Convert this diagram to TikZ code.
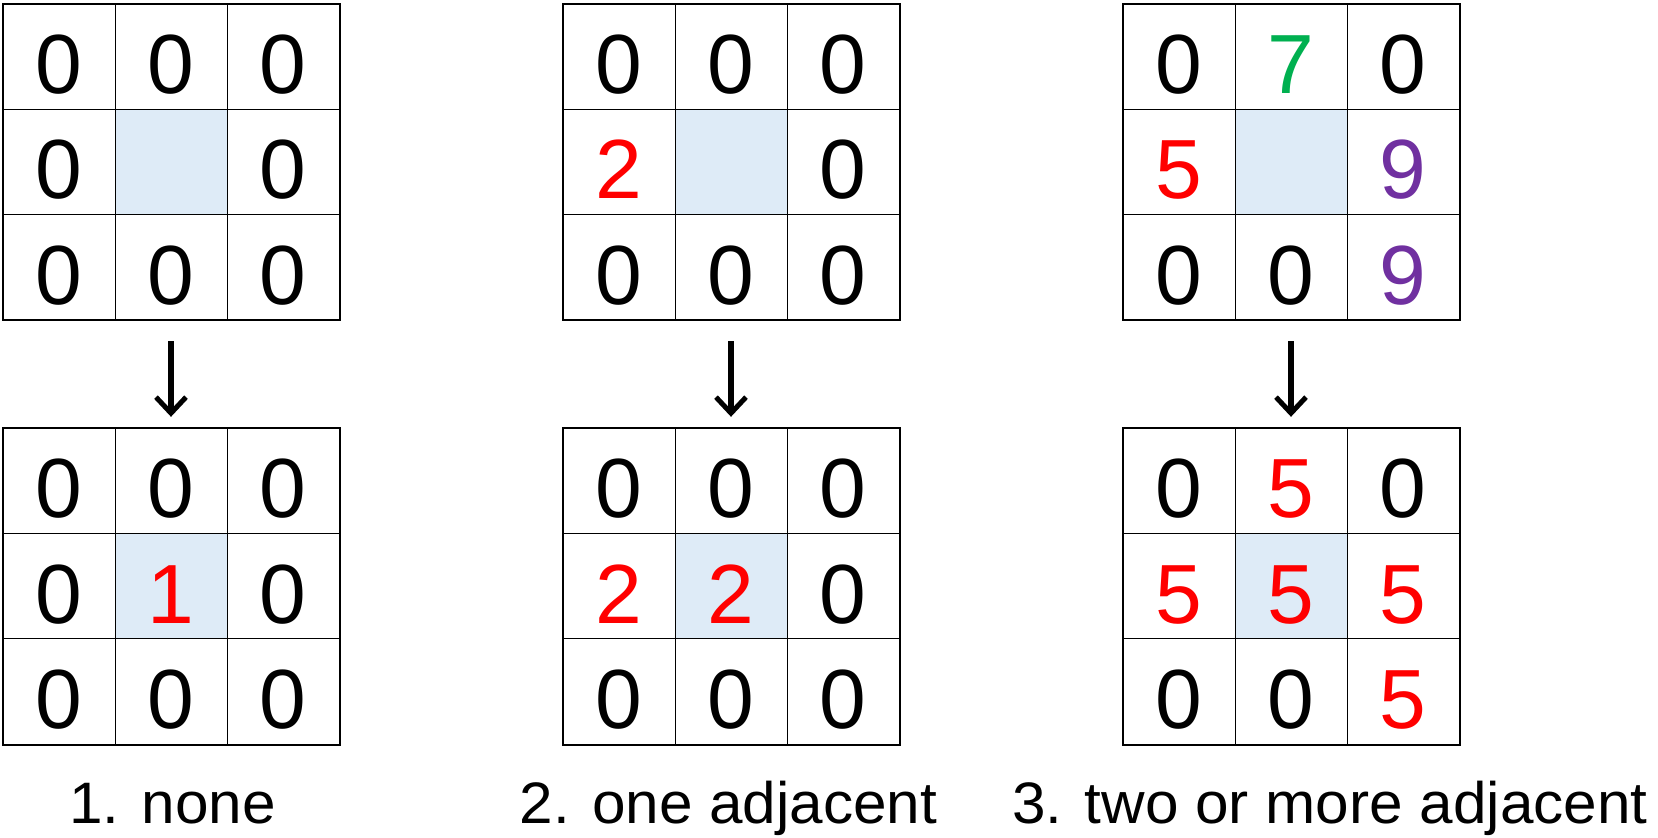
\documentclass[tikz,border=0pt]{standalone}
\usepackage{fontspec}
\usetikzlibrary{arrows.meta}
\newfontfamily\cellfont{Liberation Sans}
\newfontfamily\lblfont[FakeStretch=1.03]{Liberation Sans}
\definecolor{cellblue}{HTML}{DEEBF7}
\definecolor{mgreen}{HTML}{00B050}
\definecolor{mpurple}{HTML}{7030A0}
\newcommand{\rd}[1]{\textcolor{red}{#1}}
\newcommand{\gn}[1]{\textcolor{mgreen}{#1}}
\newcommand{\pu}[1]{\textcolor{mpurple}{#1}}
\tikzset{
  > = {Straight Barb[length=16pt,width=30pt,line width=5pt]},
  cell/.style = {draw, line width=1pt, minimum width=112pt, minimum height=105.3pt,
    inner sep=0pt, text height=74pt, text depth=0pt,
    font=\cellfont\fontsize{84}{100}\selectfont},
  lbl/.style = {anchor=base, inner sep=0pt, font=\lblfont\fontsize{58.5}{70}\selectfont},
}
% grid: name, left x, top y, nine entries
\newcommand{\numgrid}[4]{%
  \foreach \v [count=\i from 0] in {#4} {
    \pgfmathtruncatemacro\r{int(\i/3)}
    \pgfmathtruncatemacro\c{mod(\i,3)}
    \ifnum\i=4 \def\cf{cellblue}\else \def\cf{white}\fi
    \node[cell, fill=\cf] (#1-\r\c) at ({#2+56+112*\c}, {#3+52.65+105.3*\r}) {\v};
  }
  \draw[line width=2pt] (#1-00.north west) rectangle (#1-22.south east);
}

\begin{document}
\begin{tikzpicture}[x=1pt, y=-1pt]
\useasboundingbox (0,0) rectangle (1658,838);
% grids before
\numgrid{g1t}{3}{4}{0,0,0,0,{},0,0,0,0}
\numgrid{g2t}{563}{4}{0,0,0,\rd{2},{},0,0,0,0}
\numgrid{g3t}{1123}{4}{0,\gn{7},0,\rd{5},{},\pu{9},0,0,\pu{9}}
% grids after
\numgrid{g1b}{3}{428.3}{0,0,0,0,\rd{1},0,0,0,0}
\numgrid{g2b}{563}{428.3}{0,0,0,\rd{2},\rd{2},0,0,0,0}
\numgrid{g3b}{1123}{428.3}{0,\rd{5},0,\rd{5},\rd{5},\rd{5},0,0,\rd{5}}
% arrows
\draw[->, line width=6pt, shorten <=21pt, shorten >=11pt]
(g1t-21) edge (g1b-01)
(g2t-21) edge (g2b-01)
(g3t-21) edge (g3b-01);
% labels
\node[lbl] (l1) at (172.4, 823) {1. none};
\node[lbl] (l2) at (728.5, 823) {2. one adjacent};
\node[lbl] (l3) at (1330, 823) {3. two or more adjacent};
\end{tikzpicture}
\end{document}
